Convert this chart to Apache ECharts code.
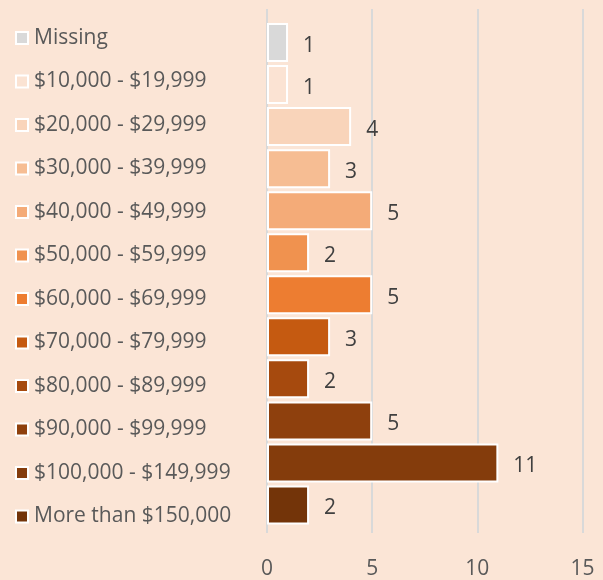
<!DOCTYPE html>
<html>
<head>
<meta charset="utf-8">
<style>
  html, body { margin: 0; padding: 0; background: #FBE5D6; }
  #chart { width: 603px; height: 580px; }
</style>
<script src="https://cdn.jsdelivr.net/npm/echarts@6/dist/echarts.min.js"></script>
</head>
<body>
<div id="chart"></div>
<script>
// Household income brackets and respondent counts
const categories = [
  'Missing',
  '$10,000 - $19,999',
  '$20,000 - $29,999',
  '$30,000 - $39,999',
  '$40,000 - $49,999',
  '$50,000 - $59,999',
  '$60,000 - $69,999',
  '$70,000 - $79,999',
  '$80,000 - $89,999',
  '$90,000 - $99,999',
  '$100,000 - $149,999',
  'More than $150,000'
];
const counts = [1, 1, 4, 3, 5, 2, 5, 3, 2, 5, 11, 2];
const colors = [
  '#D9D9D9', '#FBE3D3', '#F9D4BA', '#F6BD93', '#F4AB78', '#F0924F',
  '#ED7D31', '#C55A11', '#A64A0E', '#8E400D', '#843C0C', '#733409'
];
const xTicks = [0, 5, 10, 15];

const FONT = '"Open Sans", sans-serif';
const xMin = xTicks[0], xMax = xTicks[xTicks.length - 1], xStep = xTicks[1] - xTicks[0];

// One series per bracket, all on one stack so each bar sits in its own row
const series = categories.map((name, i) => ({
  name: name,
  type: 'bar',
  stack: 'income',
  xAxisIndex: 1,
  yAxisIndex: 1,
  barWidth: 39,
  data: counts.map((v, j) => (j === i ? v : '-')),
  itemStyle: { color: colors[i], borderColor: '#FFFFFF', borderWidth: 2 },
  label: {
    show: true,
    position: 'right',
    distance: 15,
    offset: [0, 3],
    color: '#404040',
    fontFamily: FONT,
    fontSize: 21
  },
  emphasis: { disabled: true }
}));

const chart = echarts.init(document.getElementById('chart'));
chart.setOption({
  backgroundColor: '#FBE5D6',
  animation: false,
  legend: {
    orient: 'vertical',
    left: 15,
    top: 27,
    padding: 0,
    icon: 'rect',
    itemWidth: 12,
    itemHeight: 12,
    itemGap: 21.5,
    selectedMode: false,
    itemStyle: { borderColor: '#FFFFFF', borderWidth: 2 },
    textStyle: { color: '#595959', fontFamily: FONT, fontSize: 21, lineHeight: 22, padding: [0, 0, 0, 1] },
    data: categories
  },
  grid: [
    { left: 267, right: 20.5, top: 9, bottom: 43 },
    { left: 267, right: 20.5, top: 21.5, bottom: 54 }
  ],
  xAxis: [
    {
      gridIndex: 0,
      type: 'value',
      min: xMin,
      max: xMax,
      interval: xStep,
      axisLine: { show: false },
      axisTick: { show: false },
      splitLine: { show: true, lineStyle: { color: '#D9D9D9', width: 2 } },
      axisLabel: { color: '#595959', fontFamily: FONT, fontSize: 21, margin: 26 }
    },
    {
      gridIndex: 1,
      type: 'value',
      min: xMin,
      max: xMax,
      show: false
    }
  ],
  yAxis: [
    { gridIndex: 0, type: 'category', data: categories, show: false },
    { gridIndex: 1, type: 'category', data: categories, inverse: true, show: false }
  ],
  series: series
});
</script>
</body>
</html>
